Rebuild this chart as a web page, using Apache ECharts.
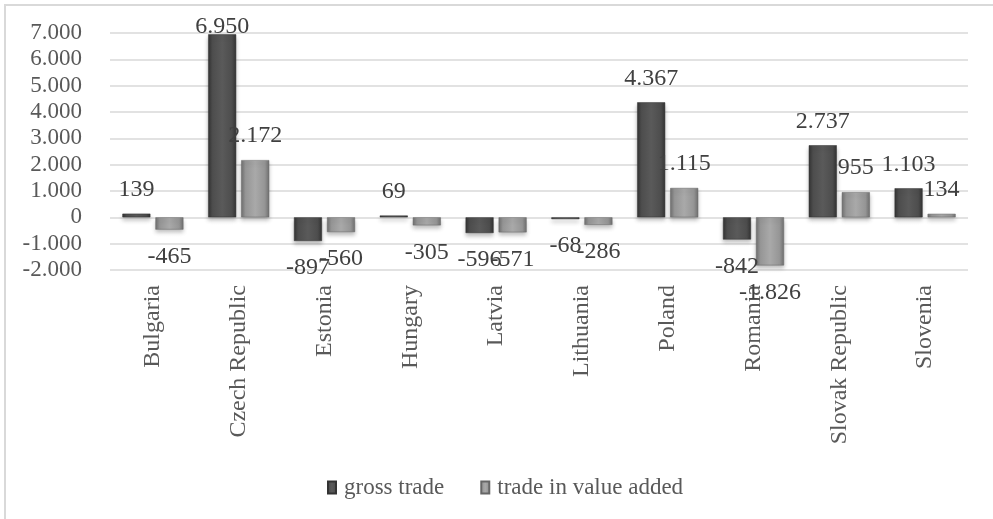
<!DOCTYPE html>
<html>
<head>
<meta charset="utf-8">
<script src="https://cdn.jsdelivr.net/npm/echarts@6/dist/echarts.min.js"></script>
<style>
html,body{margin:0;padding:0;background:#fff;}
#chart{width:993px;height:519px;}
</style>
</head>
<body>
<div id="chart"></div>
<script>
var categories = ['Bulgaria','Czech Republic','Estonia','Hungary','Latvia','Lithuania','Poland','Romania','Slovak Republic','Slovenia'];
var grossTrade = [139, 6950, -897, 69, -596, -68, 4367, -842, 2737, 1103];
var tradeValueAdded = [-465, 2172, -560, -305, -571, -286, 1115, -1826, 955, 134];
var seriesNames = ['gross trade', 'trade in value added'];
var yMin = -2000, yMax = 7000, yStep = 1000;

var FONT = '"Liberation Serif", "Times New Roman", serif';

function fmt(v) {
  var s = String(Math.abs(Math.round(v)));
  s = s.replace(/\B(?=(\d{3})+(?!\d))/g, '.');
  return (v < 0 ? '-' : '') + s;
}

function makeData(arr) {
  return arr.map(function (v) {
    var pos = v >= 0 ? 'top' : 'bottom';
    var dist = v >= 0 ? 12 : 15;
    if (v > yMax - 700) dist = -4; // label pushed inside chart area like the original
    return { value: v, label: { position: pos, distance: dist } };
  });
}

var chart = echarts.init(document.getElementById('chart'), null, { renderer: 'canvas' });

var labelStyle = {
  show: true,
  formatter: function (p) { return fmt(p.value); },
  fontFamily: FONT,
  fontSize: 24,
  color: '#404040'
};

chart.setOption({
  backgroundColor: '#ffffff',
  animation: false,
  graphic: [{
    type: 'rect',
    shape: { x: 5, y: 5, width: 1000, height: 530 },
    style: { fill: 'none', stroke: '#d9d9d9', lineWidth: 2 },
    silent: true
  }],
  grid: { left: 110, right: 25, top: 33, bottom: 249, containLabel: false },
  legend: {
    data: seriesNames,
    top: 471,
    left: 322,
    icon: 'rect',
    itemWidth: 8,
    itemHeight: 12,
    itemGap: 36,
    textStyle: { fontFamily: FONT, fontSize: 23, color: '#595959', padding: [0, 0, 0, 3] }
  },
  xAxis: {
    type: 'category',
    data: categories,
    position: 'bottom',
    axisLine: { show: false, onZero: false },
    axisTick: { show: false },
    axisLabel: {
      interval: 0,
      rotate: 90,
      margin: 15,
      fontFamily: FONT,
      fontSize: 24,
      color: '#595959'
    },
    splitLine: { show: false }
  },
  yAxis: {
    type: 'value',
    min: yMin,
    max: yMax,
    interval: yStep,
    axisLine: { show: false },
    axisTick: { show: false },
    axisLabel: {
      margin: 28,
      fontFamily: FONT,
      fontSize: 23,
      color: '#595959',
      formatter: function (v) { return fmt(v); }
    },
    splitLine: { show: true, lineStyle: { color: '#d9d9d9', width: 1.5 } }
  },
  series: [{
    name: seriesNames[0],
    type: 'bar',
    data: makeData(grossTrade),
    barWidth: 28,
    barGap: '18%',
    itemStyle: {
      color: new echarts.graphic.LinearGradient(0, 0, 1, 0, [
        { offset: 0, color: '#333333' },
        { offset: 0.15, color: '#4d4d4d' },
        { offset: 0.5, color: '#5a5a5a' },
        { offset: 0.85, color: '#4d4d4d' },
        { offset: 1, color: '#333333' }
      ]),
      borderColor: '#333333',
      borderWidth: 0.5,
      shadowColor: 'rgba(0,0,0,0.25)',
      shadowBlur: 4,
      shadowOffsetY: 3
    },
    label: labelStyle
  }, {
    name: seriesNames[1],
    type: 'bar',
    data: makeData(tradeValueAdded),
    barWidth: 28,
    itemStyle: {
      color: new echarts.graphic.LinearGradient(0, 0, 1, 0, [
        { offset: 0, color: '#707070' },
        { offset: 0.15, color: '#959595' },
        { offset: 0.5, color: '#a9a9a9' },
        { offset: 0.85, color: '#959595' },
        { offset: 1, color: '#707070' }
      ]),
      borderColor: '#666666',
      borderWidth: 0.5,
      shadowColor: 'rgba(0,0,0,0.25)',
      shadowBlur: 4,
      shadowOffsetY: 3
    },
    label: labelStyle
  }]
});
</script>
</body>
</html>
